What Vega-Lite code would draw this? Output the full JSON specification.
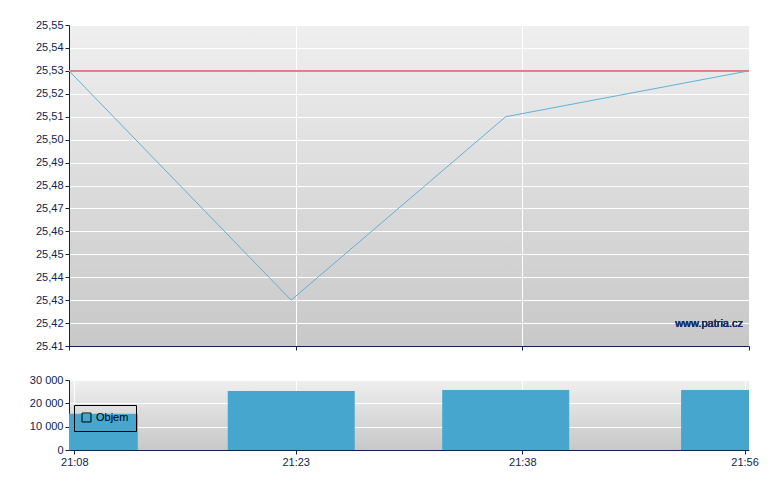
{
  "$schema": "https://vega.github.io/schema/vega-lite/v6.json",
  "autosize": {"type": "pad"},
  "padding": {"left": 29, "top": 19, "right": 5, "bottom": 5},
  "background": "white",
  "spacing": 23,
  "datasets": {
    "trades": [
      {"minute": 8, "time": "21:08", "price": 25.53, "volume": 15500},
      {"minute": 22.7, "time": "21:22", "price": 25.43, "volume": 25300},
      {"minute": 36.9, "time": "21:37", "price": 25.51, "volume": 25700},
      {"minute": 56, "time": "21:56", "price": 25.53, "volume": 25700}
    ]
  },
  "config": {
    "font": "Liberation Sans",
    "view": {
      "stroke": null,
      "fill": {"gradient": "linear", "x1": 0, "y1": 0, "x2": 0, "y2": 1,
        "stops": [{"offset": 0, "color": "#efefef"}, {"offset": 1, "color": "#c8c8c8"}]}
    },
    "axis": {
      "domainColor": "#0e2350",
      "tickColor": "#0e2350",
      "labelColor": "#0e2350",
      "labelFont": "Liberation Sans",
      "labelFontSize": 11,
      "tickSize": 4,
      "labelPadding": 2,
      "labelOverlap": false,
      "gridColor": "white",
      "gridOpacity": 1,
      "gridWidth": 1,
      "title": null
    }
  },
  "vconcat": [
    {
      "width": 680,
      "height": 321,
      "data": {"name": "trades"},
      "encoding": {
        "x": {"field": "minute", "type": "quantitative",
          "scale": {"domain": [8, 23, 38, 56], "range": [0, 226.67, 453.33, 680], "nice": false, "zero": false},
          "axis": {"values": [8, 23, 38, 56], "labels": false, "grid": true}},
        "y": {"field": "price", "type": "quantitative",
          "scale": {"domain": [25.41, 25.55], "nice": false, "zero": false},
          "axis": {"values": [25.41, 25.42, 25.43, 25.44, 25.45, 25.46, 25.47, 25.48, 25.49, 25.5, 25.51, 25.52, 25.53, 25.54, 25.55],
            "labelOverlap": false, "labelBound": false,
            "labelExpr": "datum.value < 25.415 ? '25.41' : replace(format(datum.value, '.2f'), '.', ',')", "grid": true}}
      },
      "layer": [
        {
          "mark": {"type": "line", "color": "#5cb3d8", "strokeWidth": 1}
        },
        {
          "mark": {"type": "rule", "color": "#de7f7f", "strokeWidth": 1.5},
          "encoding": {"x": null, "y": {"datum": 25.53, "type": "quantitative",
            "axis": {"values": [25.41, 25.42, 25.43, 25.44, 25.45, 25.46, 25.47, 25.48, 25.49, 25.5, 25.51, 25.52, 25.53, 25.54, 25.55],
              "labelOverlap": false, "labelBound": false,
              "labelExpr": "datum.value < 25.415 ? '25.41' : replace(format(datum.value, '.2f'), '.', ',')", "grid": true}}}
        },
        {
          "mark": {"type": "text", "align": "right", "baseline": "middle", "fontSize": 11, "color": "#1a2d5a", "dx": -6, "font": "Liberation Sans"},
          "encoding": {
            "x": {"datum": 56, "type": "quantitative",
              "axis": {"values": [8, 23, 38, 56], "labels": false, "grid": true}},
            "y": {"datum": 25.4197, "type": "quantitative",
              "axis": {"values": [25.41, 25.42, 25.43, 25.44, 25.45, 25.46, 25.47, 25.48, 25.49, 25.5, 25.51, 25.52, 25.53, 25.54, 25.55],
                "labelOverlap": false, "labelBound": false,
                "labelExpr": "datum.value < 25.415 ? '25.41' : replace(format(datum.value, '.2f'), '.', ',')", "grid": true}},
            "text": {"value": "www.patria.cz"}
          }
        }
      ]
    },
    {
      "width": 680,
      "height": 70,
      "data": {"name": "trades"},
      "mark": {"type": "bar", "width": 127, "clip": true},
      "encoding": {
        "x": {"field": "minute", "type": "quantitative",
          "scale": {"domain": [8, 23, 38, 56], "range": [0, 226.67, 453.33, 680], "nice": false, "zero": false},
          "axis": {"values": [8, 23, 38, 56], "grid": true, "labelExpr": "'21:' + (datum.value < 10 ? '0' : '') + datum.value"}},
        "y": {"field": "volume", "type": "quantitative",
          "scale": {"domain": [0, 30000], "nice": false},
          "axis": {"values": [0, 10000, 20000, 30000], "labelOverlap": false, "labelExpr": "replace(format(datum.value, ','), ',', ' ')", "grid": true}},
        "color": {"datum": "Objem", "type": "nominal",
          "scale": {"range": ["#46a6ce"]},
          "legend": {"orient": "none", "legendX": 5, "legendY": 380, "title": null,
            "strokeColor": "black", "padding": 7, "symbolType": "square", "symbolSize": 80,
            "labelFontSize": 11, "labelColor": "black", "labelFont": "Liberation Sans",
            "encode": {"symbols": {"enter": {"fillOpacity": {"value": 0}}, "update": {"fill": {"value": "transparent"}, "fillOpacity": {"value": 0}, "stroke": {"value": "black"}, "strokeWidth": {"value": 1}}}}}}
      }
    }
  ]
}
